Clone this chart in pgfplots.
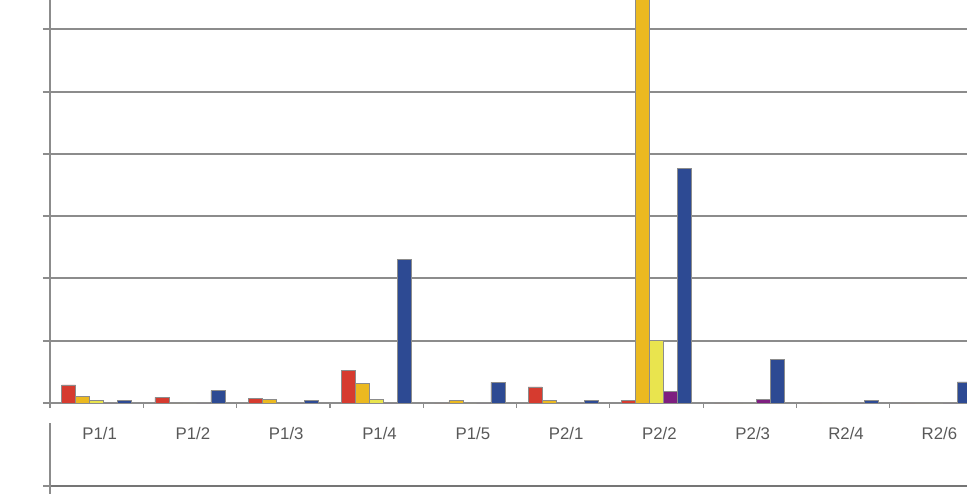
\documentclass[border=0pt]{standalone}
\usepackage{pgfplots}
\pgfplotsset{compat=1.18}
\usepackage{fontspec}
\setmainfont{Liberation Sans}
\definecolor{cred}{HTML}{D63B2F}
\definecolor{cgold}{HTML}{EBB920}
\definecolor{cly}{HTML}{E9E44E}
\definecolor{cpur}{HTML}{7E1F80}
\definecolor{cblue}{HTML}{2D4A93}
\definecolor{axg}{HTML}{8C8C8C}
\begin{document}
\begin{tikzpicture}[x=0.5pt,y=0.5pt]
\useasboundingbox (0,0) rectangle (967,493);
\clip (0,0) rectangle (967,493);
\begin{axis}[
  at={(25pt,45pt)}, anchor=south west,
  scale only axis, width=466.5pt, height=218pt,
  xmin=-0.5, xmax=9.5, ymin=0, ymax=7,
  enlarge x limits=false, enlarge y limits=false,
  ybar=0pt, bar width=7pt,
  axis x line=bottom, axis y line=left,
  axis line style={axg, line width=1pt, -},
  xtick={0,...,9},
  xticklabels={P1/1,P1/2,P1/3,P1/4,P1/5,P2/1,P2/2,P2/3,R2/4,R2/6},
  minor xtick={-0.5,0.5,...,9.5},
  major x tick style={draw=none},
  minor x tick style={axg, line width=0.6pt},
  minor tick length=2.5pt,
  ytick={0,...,7}, yticklabels={},
  major y tick style={axg, line width=1pt},
  major tick length=3.5pt,
  tick align=outside,
  ymajorgrids, grid style={axg, line width=1pt},
  xticklabel style={font=\fontsize{8.4}{9}\selectfont, text=black!65, xshift=1.5pt, yshift=-5pt},
  every axis plot/.append style={draw=black!45, line width=0.3pt},
]
% red
\addplot[fill=cred] coordinates {(0,0.29) (1,0.09) (2,0.07) (3,0.52) (4,0) (5,0.26) (6,0.04) (7,0) (8,0) (9,0)};
% gold
\addplot[fill=cgold] coordinates {(0,0.10) (1,0) (2,0.06) (3,0.32) (4,0.04) (5,0.04) (6,7.5) (7,0) (8,0) (9,0)};
% light yellow
\addplot[fill=cly] coordinates {(0,0.04) (1,0) (2,0) (3,0.06) (4,0) (5,0) (6,1.01) (7,0) (8,0) (9,0)};
% purple
\addplot[fill=cpur] coordinates {(0,0) (1,0) (2,0) (3,0) (4,0) (5,0) (6,0.18) (7,0.06) (8,0) (9,0)};
% blue
\addplot[fill=cblue] coordinates {(0,0.04) (1,0.20) (2,0.04) (3,2.30) (4,0.33) (5,0.04) (6,3.77) (7,0.70) (8,0.04) (9,0.34)};
\end{axis}
\begin{axis}[
  at={(25pt,-10pt)}, anchor=south west,
  scale only axis, width=466.5pt, height=45pt,
  xmin=0, xmax=1, ymin=-20, ymax=70,
  axis x line=none, axis y line=left,
  axis line style={axg, line width=1pt, -},
  xtick=\empty, ytick={7}, yticklabels={},
  major tick length=3.5pt, tick align=outside,
  major y tick style={axg, line width=1pt},
  ymajorgrids, grid style={axg!120, line width=1pt},
]
\addplot[draw=none] coordinates {(0,0)};
\end{axis}
\end{tikzpicture}
\end{document}
